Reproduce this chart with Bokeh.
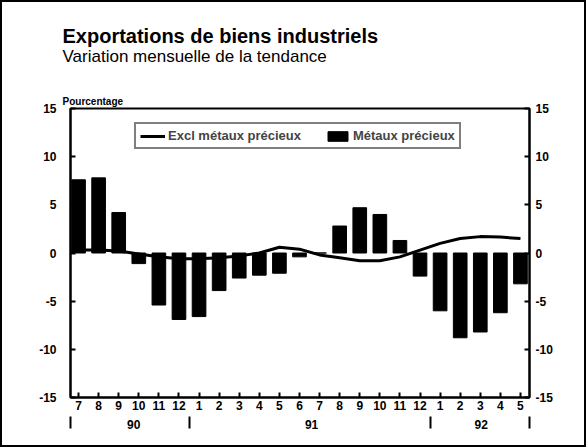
from bokeh.plotting import figure
from bokeh.models import (Range1d, FixedTicker, Legend, LegendItem, Title,
                          ColumnDataSource, LinearAxis)
from bokeh.embed import file_html
from bokeh.resources import INLINE

# ---- data ----
months = ["7", "8", "9", "10", "11", "12", "1", "2", "3", "4", "5", "6",
          "7", "8", "9", "10", "11", "12", "1", "2", "3", "4", "5"]
metaux_precieux = [7.6, 7.8, 4.2, -1.1, -5.4, -6.9, -6.6, -3.9, -2.6, -2.3,
                   -2.1, -0.4, 0.0, 2.8, 4.7, 4.0, 1.3, -2.4, -6.0, -8.8,
                   -8.2, -6.2, -3.2]
excl_metaux = [0.3, 0.3, 0.2, -0.1, -0.4, -0.6, -0.6, -0.5, -0.3, 0.0,
               0.6, 0.4, -0.2, -0.5, -0.8, -0.8, -0.4, 0.3, 1.0, 1.5,
               1.7, 1.65, 1.5]
years = ["90", "91", "92"]
year_pos = [2.75, 11.6, 20.05]          # centre of each year label (month index)
year_breaks = [-0.4, 5.5, 17.5, 22.45]  # separators between years
y_ticks = [-15, -10, -5, 0, 5, 10, 15]
y_tick_labels = ["-15", "-10", "-5", "0", "5", "10", "15"]

idx = list(range(len(months)))
src = ColumnDataSource(dict(x=idx, bars=metaux_precieux, line=excl_metaux))

FONT = "Liberation Sans"

p = figure(width=586, height=447, output_backend="svg", toolbar_location=None,
           x_range=Range1d(-0.4, 22.45), y_range=Range1d(-15, 15),
           min_border_left=70, min_border_right=57, min_border_top=108,
           min_border_bottom=50)
p.xgrid.visible = False
p.ygrid.visible = False
p.outline_line_color = "black"
p.outline_line_width = 2
p.background_fill_color = "white"
p.border_fill_color = None
p.styles = {"box-shadow": "inset 0 0 0 2px black", "background-color": "white"}

bars = p.vbar(x="x", top="bars", width=0.68, source=src,
              fill_color="black", line_color="black")
ln = p.line(x="x", y="line", source=src, line_color="black", line_width=3)

# x axis (months)
xa = p.xaxis[0]
xa.ticker = FixedTicker(ticks=idx)
xa.major_label_overrides = {i: m for i, m in zip(idx, months)}
xa.minor_tick_line_color = None
xa.major_tick_in = 5
xa.major_tick_out = 0
xa.major_tick_line_width = 2
xa.axis_line_width = 2
xa.major_label_standoff = 3
xa.major_label_text_font = FONT
xa.major_label_text_font_style = "bold"
xa.major_label_text_font_size = "12px"
xa.major_label_text_color = "black"

# second x axis: years with separators
year_axis = LinearAxis(ticker=FixedTicker(ticks=year_pos, minor_ticks=year_breaks))
year_axis.major_label_overrides = {pos: y for pos, y in zip(year_pos, years)}
year_axis.axis_line_color = None
year_axis.major_tick_line_color = None
year_axis.minor_tick_line_color = "black"
year_axis.minor_tick_line_width = 2
year_axis.minor_tick_in = -4
year_axis.minor_tick_out = 16
year_axis.major_tick_in = 0
year_axis.major_tick_out = 0
year_axis.major_label_standoff = -9
year_axis.major_label_text_font = FONT
year_axis.major_label_text_font_style = "bold"
year_axis.major_label_text_font_size = "12px"
year_axis.major_label_text_color = "black"
p.add_layout(year_axis, "below")

# y axes
ya = p.yaxis[0]
ra = LinearAxis()
p.add_layout(ra, "right")
for ax, standoff in ((ya, 14), (ra, 6)):
    ax.ticker = FixedTicker(ticks=y_ticks)
    ax.major_label_overrides = {t: s for t, s in zip(y_ticks, y_tick_labels)}
    ax.minor_tick_line_color = None
    ax.major_tick_in = 5
    ax.major_tick_out = 0
    ax.major_tick_line_width = 2
    ax.axis_line_width = 2
    ax.major_label_standoff = standoff
    ax.major_label_text_font = FONT
    ax.major_label_text_font_style = "bold"
    ax.major_label_text_font_size = "12px"
    ax.major_label_text_color = "black"

# titles (first added sits closest to the frame)
p.add_layout(Title(text="Pourcentage", align="left", offset=-8, standoff=4,
                   text_font=FONT, text_font_style="bold", text_color="black",
                   text_font_size="10px"), "above")
p.add_layout(Title(text="Variation mensuelle de la tendance", align="left",
                   offset=-8, standoff=52, text_font=FONT, text_color="black",
                   text_font_style="normal", text_font_size="17px"), "above")
p.add_layout(Title(text="Exportations de biens industriels", align="left",
                   offset=-8, standoff=-56, text_font=FONT, text_color="black",
                   text_font_style="bold", text_font_size="20px"), "above")

legend = Legend(items=[LegendItem(label="Excl métaux précieux", renderers=[ln]),
                       LegendItem(label="Métaux précieux", renderers=[bars])],
                orientation="horizontal", location=(64, 248),
                border_line_color="black", border_line_width=2,
                background_fill_color="white", background_fill_alpha=1,
                label_text_font=FONT, label_text_font_style="bold",
                label_text_font_size="13px", glyph_width=25, glyph_height=12,
                label_height=12, label_standoff=3, spacing=24, padding=4,
                margin=0)
p.add_layout(legend, "center")

open("out.html", "w").write(file_html(p, INLINE))
